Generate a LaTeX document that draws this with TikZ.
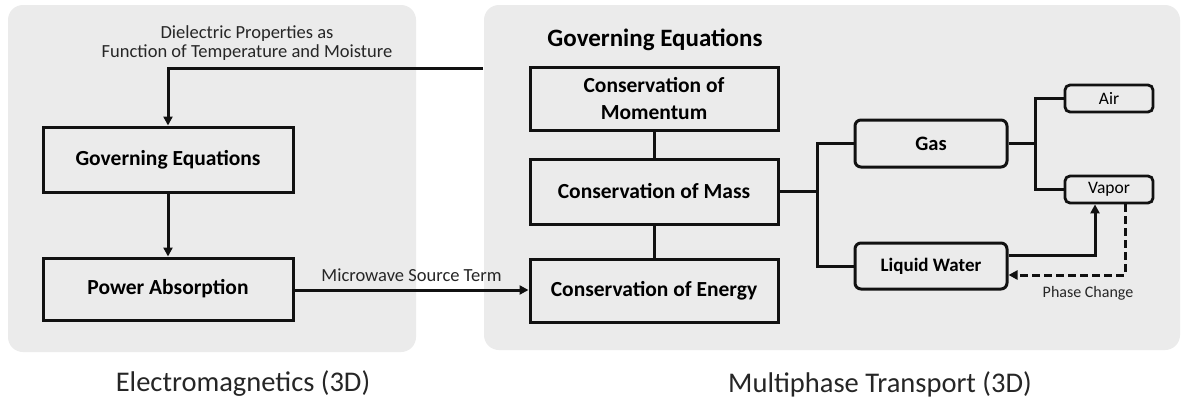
\documentclass[tikz,border=0pt]{standalone}
\usepackage{fontspec}
\setmainfont{Carlito}
\usetikzlibrary{arrows.meta}
\definecolor{panel}{HTML}{EBEBEB}
\definecolor{ink}{HTML}{111111}
\definecolor{cap}{HTML}{262626}
\begin{document}
\begin{tikzpicture}[x=1pt,y=-1pt,
  box/.style={draw=ink,line width=3pt,inner sep=0pt,align=center,font=\fontsize{21.5}{27}\selectfont\bfseries},
  rbox/.style={box,rounded corners=6pt},
  sbox/.style={draw=ink,line width=2.8pt,rounded corners=5pt,inner sep=0pt,font=\fontsize{17.5}{20}\selectfont},
  conn/.style={draw=ink,line width=3pt},
  arr/.style={conn,-{Triangle[length=9pt,width=9pt]}},
  lbl/.style={font=\fontsize{18.5}{19.5}\selectfont,text=cap,align=center},
  ttl/.style={font=\fontsize{28.5}{32}\selectfont,text=cap}]
\useasboundingbox (0,0) rectangle (1186,402);
\fill[white] (0,0) rectangle (1186,402);
% panels
\fill[panel,rounded corners=15pt] (8,5) rectangle (416,352);
\fill[panel,rounded corners=15pt] (484,5) rectangle (1180,350);
% left column
\node[lbl] (diel) at (247,43) {Dielectric Properties as\\Function of Temperature and Moisture};
\node[box,minimum width=250pt,minimum height=65pt] (ge) at (168,159.5) {Governing Equations};
\node[box,minimum width=250pt,minimum height=62pt] (pa) at (168,289) {Power Absorption};
% right column
\node[font=\fontsize{25}{30}\selectfont\bfseries] (get) at (655,40) {Governing Equations};
\node[box,minimum width=248pt,minimum height=63pt] (mom) at (654,98.5) {Conservation of\\Momentum};
\node[box,minimum width=248pt,minimum height=65pt] (mass) at (654,191.5) {Conservation of Mass};
\node[box,minimum width=248pt,minimum height=63pt] (en) at (654,290.5) {Conservation of Energy};
\node[rbox,minimum width=152pt,minimum height=47pt,font=\fontsize{20.5}{22}\selectfont\bfseries] (gas) at (931,143.5) {Gas};
\node[rbox,minimum width=152pt,minimum height=46pt,font=\fontsize{19}{22}\selectfont\bfseries] (lw) at (931,266) {Liquid Water};
\node[sbox,minimum width=88pt,minimum height=27pt] (air) at (1109,98.5) {Air};
\node[sbox,minimum width=88pt,minimum height=27pt] (vap) at (1109,189.5) {Vapor};
% connectors
\coordinate (dstart) at (483,68);
\draw[arr] (dstart) -- (168,68) -- (ge.north);
\draw[arr] (ge.south) -- (pa.north);
\draw[arr] (pa.east |- 0,290) -- node[lbl,above=4pt] (mw) {Microwave Source Term} (en.west |- 0,290);
\draw[conn] (mom.south) -- (mass.north);
\draw[conn] (mass.south) -- (en.north);
\coordinate (j1) at (817,191.5);
\draw[conn] (mass.east) -- (j1);
\draw[conn] (gas.west) -| (j1) |- (lw.west);
\coordinate (j2) at (1035,143.5);
\draw[conn] (gas.east) -- (j2);
\draw[conn] (air.west) -| (j2) |- (vap.west);
\draw[arr] (lw.east |- 0,255) -| (vap.south -| 1095,0);
\draw[arr,dashed,dash pattern=on 8pt off 4pt] (vap.south -| 1125,0) |- (lw.east |- 0,275);
\node[font=\fontsize{16}{18}\selectfont,text=cap] (pc) at (1088,293) {Phase Change};
% captions
\node[ttl] (em) at (243,384) {Electromagnetics (3D)};
\node[ttl] (mt) at (880,384) {Multiphase Transport (3D)};
\end{tikzpicture}
\end{document}
